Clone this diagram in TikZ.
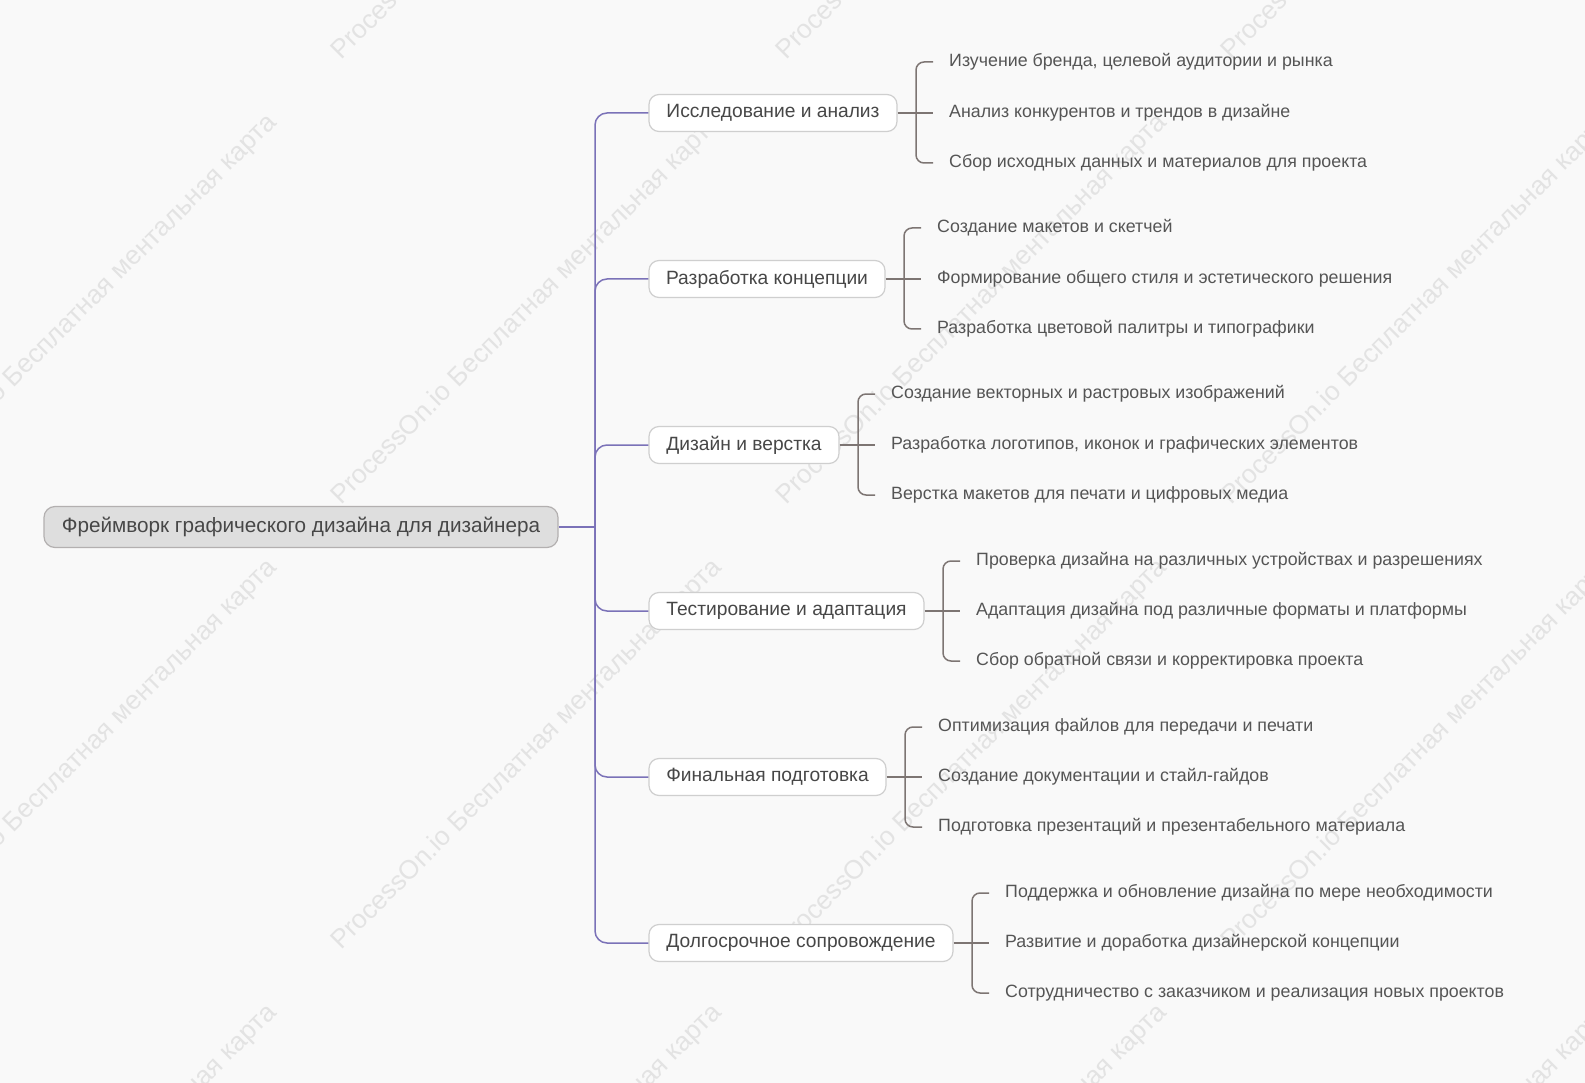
\documentclass[tikz,border=0pt]{standalone}
\usepackage{fontspec}
\setmainfont{Liberation Sans}
\definecolor{bg}{HTML}{F9F9F9}
\definecolor{purp}{HTML}{7B72B8}
\definecolor{brk}{HTML}{7D7573}
\definecolor{txt}{HTML}{474747}
\definecolor{leaftxt}{HTML}{555555}
\definecolor{wm}{HTML}{E3E3E3}
\definecolor{rootfill}{HTML}{DEDEDE}
\definecolor{rootborder}{HTML}{B3B0B0}
\definecolor{brborder}{HTML}{CFCFCF}
\begin{document}
\begin{tikzpicture}[x=1pt,y=-1pt,
  rootnode/.style={draw=rootborder, fill=rootfill, rounded corners=11pt, line width=1.2pt,
    minimum height=41pt, minimum width=514pt, inner sep=0pt, text=txt,
    font=\fontsize{20.7}{24}\selectfont},
  branch/.style={draw=brborder, fill=white, rounded corners=10pt, line width=1.2pt,
    minimum height=37pt, inner sep=0pt, text=txt, font=\fontsize{19.2}{22}\selectfont},
  leaf/.style={anchor=west, inner xsep=16pt, inner ysep=0pt, text=leaftxt,
    font=\fontsize{17.8}{20}\selectfont},
  trunk/.style={draw=purp, line width=1.5pt, rounded corners=12pt},
  brack/.style={draw=brk, line width=1.5pt, rounded corners=8pt},
  wmark/.style={rotate=45, text=wm, inner sep=0pt, font=\fontsize{26.4}{30}\selectfont}
]
\useasboundingbox (0,0) rectangle (1585,1083);
\fill[bg] (0,0) rectangle (1585,1083);
\begin{scope}
\clip (0,0) rectangle (1585,1083);
\foreach \cx in {82,527,972,1417}{
  \foreach \cy in {-135,310,755,1200}{
    \node[wmark] at (\cx,\cy) {ProcessOn.io Бесплатная ментальная карта};
  }
}
\end{scope}

% root
\node[rootnode] (root) at (301,527) {Фреймворк графического дизайна для дизайнера};
\coordinate (tj) at (595,527);
\draw[trunk] (root.east) -- (tj);

% branches
\node[branch, minimum width=248pt] (b1) at (773,113) {Исследование и анализ};
\node[branch, minimum width=236pt] (b2) at (767,279) {Разработка концепции};
\node[branch, minimum width=190pt] (b3) at (744,445) {Дизайн и верстка};
\node[branch, minimum width=275pt] (b4) at (786.5,611) {Тестирование и адаптация};
\node[branch, minimum width=237pt] (b5) at (767.5,777) {Финальная подготовка};
\node[branch, minimum width=304pt] (b6) at (801,943) {Долгосрочное сопровождение};

\foreach \b in {b1,b2,b3,b4,b5,b6}{
  \draw[trunk] (tj) |- (\b.west);
}

% bracket junctions
\coordinate (k1) at (916,113);
\coordinate (k2) at (904,279);
\coordinate (k3) at (858,445);
\coordinate (k4) at (943,611);
\coordinate (k5) at (905,777);
\coordinate (k6) at (972,943);

% leaves
\node[leaf] (l11) at (933,62) {Изучение бренда, целевой аудитории и рынка};
\node[leaf] (l12) at (933,113) {Анализ конкурентов и трендов в дизайне};
\node[leaf] (l13) at (933,163) {Сбор исходных данных и материалов для проекта};

\node[leaf] (l21) at (921,228) {Создание макетов и скетчей};
\node[leaf] (l22) at (921,279) {Формирование общего стиля и эстетического решения};
\node[leaf] (l23) at (921,329) {Разработка цветовой палитры и типографики};

\node[leaf] (l31) at (875,394) {Создание векторных и растровых изображений};
\node[leaf] (l32) at (875,445) {Разработка логотипов, иконок и графических элементов};
\node[leaf] (l33) at (875,495) {Верстка макетов для печати и цифровых медиа};

\node[leaf] (l41) at (960,561) {Проверка дизайна на различных устройствах и разрешениях};
\node[leaf] (l42) at (960,611) {Адаптация дизайна под различные форматы и платформы};
\node[leaf] (l43) at (960,661) {Сбор обратной связи и корректировка проекта};

\node[leaf] (l51) at (922,727) {Оптимизация файлов для передачи и печати};
\node[leaf] (l52) at (922,777) {Создание документации и стайл-гайдов};
\node[leaf] (l53) at (922,827) {Подготовка презентаций и презентабельного материала};

\node[leaf] (l61) at (989,893) {Поддержка и обновление дизайна по мере необходимости};
\node[leaf] (l62) at (989,943) {Развитие и доработка дизайнерской концепции};
\node[leaf] (l63) at (989,993) {Сотрудничество с заказчиком и реализация новых проектов};

\foreach \i in {1,...,6}{
  \draw[brack] (b\i.east) -- (k\i);
  \draw[brack] (k\i) |- (l\i1.west);
  \draw[brack] (k\i) -- (l\i2.west);
  \draw[brack] (k\i) |- (l\i3.west);
}
\end{tikzpicture}
\end{document}
